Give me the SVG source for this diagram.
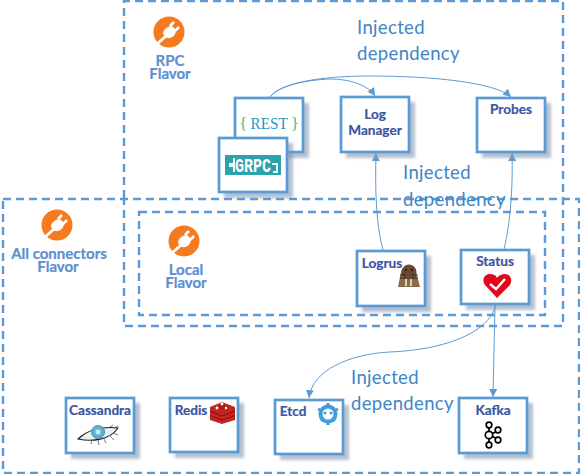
<svg xmlns="http://www.w3.org/2000/svg" width="580" height="474" viewBox="0 0 580 474">
<style>
text{font-family:Lato,"Liberation Sans",sans-serif}
.group{fill:none;stroke:#5b9bd5;stroke-width:2.4;stroke-dasharray:8 5}
.box{fill:#fff;stroke:#5b9bd5;stroke-width:2.7}
.shadow{fill:#8497b0;opacity:.6;filter:url(#blur)}
.label{font-size:13.600px;font-weight:700;fill:#3a55a4;text-anchor:middle;stroke:#3a55a4;stroke-width:.2}
.flavor{font-size:15px;font-weight:700;fill:#5b8fd0;text-anchor:middle;stroke:#5b8fd0;stroke-width:.2}
.inj{font-size:18.500px;fill:#3f85c6;letter-spacing:.35px}
.conn{fill:none;stroke:#5b9bd5;stroke-width:1;marker-end:url(#arrow)}
text.mono{font-family:"Liberation Serif",serif;font-size:17px;fill:#1dba8c;text-anchor:middle}
</style>
<defs>
<filter id="blur" x="-20%" y="-20%" width="140%" height="140%"><feGaussianBlur stdDeviation="1.800"/></filter>
<marker id="arrow" markerUnits="userSpaceOnUse" markerWidth="10" markerHeight="9" refX="8" refY="4" orient="auto"><path d="M0 0L8 4L0 8Z" fill="#5b9bd5"/></marker>
<g id="plug">
<circle r="15.500" fill="#f57a20"/>
<path d="M-12 12L-3 4" stroke="#fff" stroke-width="3" fill="none"/>
<path d="M-6 2C-6 -3 -1 -6 3 -6L7 -2C7 3 3 7 -2 6Z" fill="#fff"/>
<path d="M1 -6L5 -10M6 -1L10 -5" stroke="#fff" stroke-width="2.600" fill="none"/>
</g>
</defs>

<g id="group-rpc"><path class="group" d="M124 198V1H563V326H124V198"/></g>
<g id="group-all"><rect class="group" x="3" y="199" width="576" height="274"/></g>
<g id="group-local"><rect class="group" x="139" y="212" width="406" height="103"/></g>

<g id="connectors">
<path class="conn" d="M270 97C278 86 305 80 330 79C350 79 368 85 375 96"/>
<path class="conn" d="M270 97C280 83 320 76 370 76C430 76 495 82 511 97"/>
<path class="conn" d="M383 250C376 225 375 190 376 153"/>
<path class="conn" d="M504 249C510 225 513 190 512 153"/>
<path class="conn" d="M496 305C488 335 440 350 390 352C350 354 312 370 309 398"/>
<path class="conn" d="M495 305L493 397"/>
</g>

<g id="flavor-rpc">
<use href="#plug" x="169" y="32"/>
<text class="flavor"><tspan x="170" y="66">RPC</tspan><tspan x="170" y="79">Flavor</tspan></text>
</g>
<g id="flavor-all">
<use href="#plug" x="57" y="225"/>
<text class="flavor"><tspan x="59" y="259">All connectors</tspan><tspan x="58" y="272">Flavor</tspan></text>
</g>
<g id="flavor-local">
<use href="#plug" x="184" y="241"/>
<text class="flavor"><tspan x="186" y="275">Local</tspan><tspan x="186" y="288">Flavor</tspan></text>
</g>

<g id="node-rest">
<rect class="shadow" x="240" y="103" width="69" height="55"/><rect class="box" x="235" y="98" width="68" height="54"/>
<text class="mono" x="269" y="129" xml:space="preserve" textLength="59" lengthAdjust="spacingAndGlyphs">{ <tspan fill="#1a9cc0">REST</tspan> }</text>
</g>
<g id="node-grpc">
<rect class="shadow" x="224" y="143" width="69" height="55"/><rect class="box" x="219" y="138" width="68" height="54"/>
<rect x="225" y="155" width="56" height="20" fill="#2ba3ad"/>
<text x="235" y="172" font-size="20" font-weight="700" fill="#fff" style="font-family:'Liberation Mono',monospace" textLength="36" lengthAdjust="spacingAndGlyphs">GRPC</text>
<path d="M229 164H234V158M229 166H234V172M272 164H277V172H273" stroke="#fff" stroke-width="1.800" fill="none"/>
</g>
<g id="node-log">
<rect class="shadow" x="346" y="102" width="69" height="56"/><rect class="box" x="341" y="97" width="68" height="55"/>
<text class="label"><tspan x="375" y="119">Log</tspan><tspan x="375" y="135">Manager</tspan></text>
</g>
<g id="node-probes">
<rect class="shadow" x="482" y="103" width="69" height="55"/><rect class="box" x="477" y="98" width="68" height="54"/>
<text class="label" x="511" y="114">Probes</text>
</g>
<g id="node-logrus">
<rect class="shadow" x="362" y="256" width="69" height="56"/><rect class="box" x="357" y="251" width="68" height="55"/>
<text class="label" x="382" y="268">Logrus</text>
<path d="M398 287L401 272C403 264 414 264 416 272L420 287Z" fill="#8a6a4a"/>
<circle cx="409" cy="272" r="7.500" fill="#6b4a30"/>
<circle cx="406" cy="270" r="1.200" fill="#222"/><circle cx="412" cy="270" r="1.200" fill="#222"/>
<path d="M400 275H406M412 275H418M400 278H406M412 278H418" stroke="#222" stroke-width=".9"/>
<path d="M406 279V286M411 279V286" stroke="#f2eadf" stroke-width="1.600"/>
</g>
<g id="node-status">
<rect class="shadow" x="466" y="255" width="69" height="55"/><rect class="box" x="461" y="250" width="68" height="54"/>
<text class="label" x="495" y="266">Status</text>
<path d="M497 298L485 285C481 279 485 274 490 274C493 274 496 275 497 278C499 275 502 274 505 274C510 274 513 279 510 285Z" fill="#e1081c"/>
<path d="M490 284L496 289L505 279" stroke="#fff" stroke-width="2.400" fill="none"/>
</g>
<g id="node-cassandra">
<rect class="shadow" x="71" y="403" width="69" height="56"/><rect class="box" x="66" y="398" width="68" height="55"/>
<text class="label" x="100" y="415">Cassandra</text>
<path d="M78 439C86 431 100 426 118 428C110 440 92 442 78 439Z" fill="#e8f3f8" stroke="#222" stroke-width="1.100"/>
<circle cx="98" cy="432" r="6.500" fill="#5fb4d6" stroke="#357a9c" stroke-width=".8"/>
<circle cx="98" cy="432" r="2.500" fill="#cfe9f4"/>
<path d="M92 440L91 444M98 440L99 445M104 439L106 443M110 436L114 440M113 433L118 435M110 427L113 425M114 428L118 426" stroke="#555" stroke-width=".8"/>
</g>
<g id="node-redis">
<rect class="shadow" x="175" y="403" width="69" height="55"/><rect class="box" x="170" y="398" width="68" height="54"/>
<text class="label" x="191" y="415">Redis</text>
<path d="M210 407L222 402L235 407V420L222 424L210 420Z" fill="#c6261f"/>
<path d="M210 411L222 416L235 411M210 415.500L222 420L235 415.500" stroke="#7d1510" stroke-width="1" fill="none"/>
<path d="M215 407L222 404L229 407L222 410Z" fill="#a81d17"/>
<circle cx="222" cy="404" r="1.400" fill="#fff"/><circle cx="217" cy="408" r="1.400" fill="#fff"/><circle cx="226" cy="408" r="1.200" fill="#fff"/>
</g>
<g id="node-etcd">
<rect class="shadow" x="280" y="405" width="69" height="55"/><rect class="box" x="275" y="400" width="68" height="54"/>
<text class="label" x="293" y="416">Etcd</text>
<circle cx="328" cy="414" r="7.500" fill="none" stroke="#419eda" stroke-width="4"/>
<path d="M328 403V405M318 409L320 410M338 409L336 410M321 421L323 419M335 421L333 419M328 425V423" stroke="#419eda" stroke-width="3"/>
<circle cx="325" cy="413" r="1.500" fill="#419eda"/><circle cx="331" cy="413" r="1.500" fill="#419eda"/>
</g>
<g id="node-kafka">
<rect class="shadow" x="464" y="403" width="69" height="56"/><rect class="box" x="459" y="398" width="68" height="55"/>
<text class="label" x="493" y="415">Kafka</text>
<g fill="#fff" stroke="#000" stroke-width="1.700">
<path d="M489 428V442M489 435L498 431M489 435L498 439" fill="none"/>
<circle cx="489" cy="425" r="2.800"/><circle cx="489" cy="435" r="3.700"/><circle cx="489" cy="445" r="2.800"/><circle cx="498" cy="430" r="2.800"/><circle cx="498" cy="440" r="2.800"/>
</g>
</g>

<g id="labels">
<text class="inj"><tspan x="357" y="34">Injected</tspan><tspan x="357" y="60">dependency</tspan></text>
<text class="inj"><tspan x="403" y="179">Injected</tspan><tspan x="403" y="206">dependency</tspan></text>
<text class="inj"><tspan x="351" y="384">Injected</tspan><tspan x="351" y="410">dependency</tspan></text>
</g>
</svg>
